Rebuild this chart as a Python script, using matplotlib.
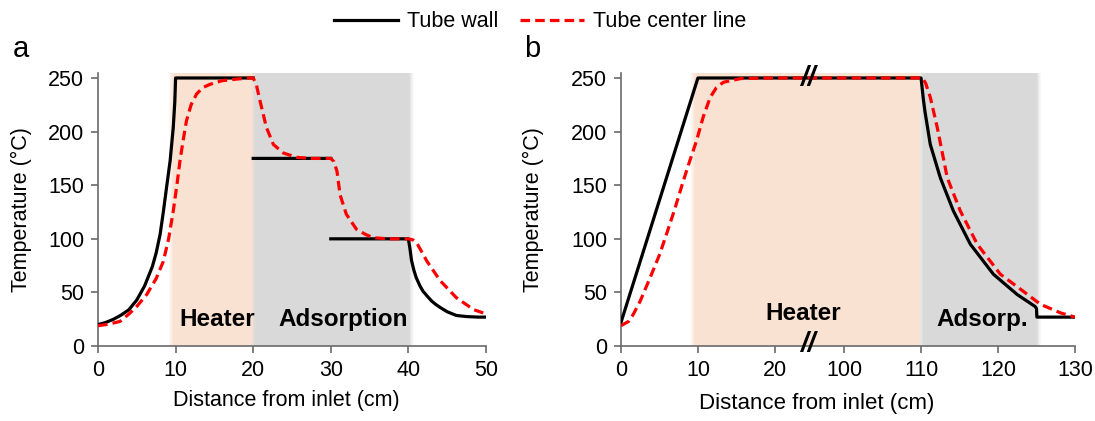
import numpy as np
import matplotlib
matplotlib.use("Agg")
import matplotlib.pyplot as plt

plt.rcParams['font.family'] = ['Liberation Sans', 'DejaVu Sans']

# ---- data ----
# panel a (nan = gap between wall segments)
wall_a_x = [0, 1, 2, 3, 4, 4.55, 5, 6, 7, 7.5, 8, 8.4, 8.8, 9.3, 9.7, 9.9, 10, 20, np.nan,
            20, 30, np.nan,
            30, 40, 40.2, 40.4, 40.7, 41, 41.5, 41.9, 42.5, 43, 43.5, 44.1, 45, 46.2, 47.5, 49, 50]
wall_a_y = [20, 22, 25, 29, 34, 39, 43, 56, 74, 87, 104, 124, 146, 173, 204, 228, 250, 250, np.nan,
            175, 175, np.nan,
            100, 100, 91, 80, 71, 64, 56, 51, 46, 42, 39, 36, 32, 28.5, 27.5, 27, 27]

center_a_x = [0, 1, 2, 2.84, 4, 5, 6.27, 7.5, 8.42, 9.1, 9.7, 10.2, 10.57, 11, 11.4, 12,
              12.7, 13.5, 14.4, 16, 17.9, 19.5, 20, 20.4, 20.9, 21.7, 22.6, 23.9, 25.6,
              27.5, 29.5, 30, 30.4, 30.8, 31.2, 32, 33.3, 34.5, 35.5, 37.5, 40, 40.6,
              41.1, 42.4, 44.1, 46.2, 48.4, 50]
center_a_y = [19, 20, 21.5, 23, 30, 37, 48, 63, 79, 100, 126, 152, 173, 193, 210, 225,
              235, 241, 244, 247.5, 249, 250, 250, 244, 228, 204, 188, 180, 176,
              175, 175, 175, 172, 163, 141, 123, 109, 104, 101, 100, 100, 99,
              96, 79, 61, 45, 34, 30]

# panel b (real distances, axis broken between 20 and 100)
wall_b_x = [0, 10, 110, 110.3, 110.5, 111.2, 112.5, 114.2, 116.4, 119.4, 122.5, 124.8,
            125, 125.05, 130]
wall_b_y = [22, 250, 250, 230, 219, 188, 157, 126, 95, 67, 48, 37, 35, 27, 27]

center_b_x = [0, 1, 1.6, 2.5, 3.8, 5, 5.9, 7, 8.1, 9, 9.8, 10.7, 11.6, 12.4, 13.3, 15.6,
              20, 110.2, 110.6, 111.2, 112.1, 113.4, 115.1, 117.3, 120.3, 123.3, 125.5,
              128.1, 130]
center_b_y = [19, 23, 29.6, 42, 64, 85, 104, 128, 154, 174, 191, 214, 232, 241, 246, 249.5,
              250, 250, 245, 232, 204, 157, 126, 95, 67, 51, 39, 31, 27]

y_ticks = [0, 50, 100, 150, 200, 250]
a_ticks = [0, 10, 20, 30, 40, 50]
b_ticks = [0, 10, 20, 100, 110, 120, 130]

# shaded zones: (start, end, colour)
heater_color = '#FAE2D3'
adsorb_color = '#D9D9D9'
zones_a = [(9.4, 20.4, heater_color), (20.0, 40.4, adsorb_color)]
zones_b = [(9.3, 110.0, heater_color), (110.0, 125.3, adsorb_color)]

wall_color = 'black'
center_color = '#FF0000'
spine_color = '#6a6a6a'
fs = 15.5


def soft_span(ax, x0, x1, color, fade=0.5, n=8):
    # core + faded edges
    ax.axvspan(x0 + fade / 2, x1 - fade / 2, color=color, lw=0, zorder=0)
    step = fade / n
    for i in range(n):
        a = (i + 0.5) / n
        ax.axvspan(x0 - fade / 2 + i * step, x0 - fade / 2 + (i + 1) * step,
                   color=color, alpha=a, lw=0, zorder=0)
        ax.axvspan(x1 + fade / 2 - (i + 1) * step, x1 + fade / 2 - i * step,
                   color=color, alpha=a, lw=0, zorder=0)


def style_axes(ax):
    for s in ['top', 'right']:
        ax.spines[s].set_visible(False)
    for s in ['left', 'bottom']:
        ax.spines[s].set_color(spine_color)
        ax.spines[s].set_linewidth(1.2)
    ax.tick_params(direction='out', length=5, width=1.2, color=spine_color,
                   labelsize=fs, pad=5)
    ax.set_ylim(0, 255)
    ax.set_yticks(y_ticks)


fig = plt.figure(figsize=(10.95, 4.21), dpi=100)

# ---- panel a ----
ax1 = fig.add_axes([0.0895, 0.178, 0.3543, 0.6495])
for x0, x1, c in zones_a:
    soft_span(ax1, x0, x1, c, fade=0.6)
l1, = ax1.plot(wall_a_x, wall_a_y, color=wall_color, lw=2.3, label='Tube wall', zorder=3)
l2, = ax1.plot(center_a_x, center_a_y, color=center_color, lw=2.3, dashes=(3, 1.6),
               label='Tube center line', zorder=4)
ax1.set_xlim(0, 50)
ax1.set_xticks(a_ticks)
style_axes(ax1)
ax1.set_ylabel('Temperature (°C)', fontsize=fs)
ax1.yaxis.set_label_coords(-0.17, 0.5)
ax1.set_xlabel('Distance from inlet (cm)', fontsize=fs)
ax1.xaxis.set_label_coords(0.485, -0.16)
ax1.text(15.4, 25, 'Heater', fontsize=17.5, fontweight='bold', ha='center', va='center', zorder=5)
ax1.text(31.6, 25, 'Adsorption', fontsize=17.5, fontweight='bold', ha='center', va='center', zorder=5)

# ---- panel b (broken x axis via function scale) ----
def fwd(x):
    x = np.asarray(x, dtype=float)
    return np.where(x < 60, x, x - 71)


def inv(u):
    u = np.asarray(u, dtype=float)
    return np.where(u < 24.5, u, u + 71)


ax2 = fig.add_axes([0.5671, 0.178, 0.4146, 0.6495])
ax2.set_xscale('function', functions=(fwd, inv))
for x0, x1, c in zones_b:
    soft_span(ax2, x0, x1, c, fade=0.6)
ax2.plot(wall_b_x, wall_b_y, color=wall_color, lw=2.3, zorder=3)
ax2.plot(center_b_x, center_b_y, color=center_color, lw=2.3, dashes=(3, 1.6), zorder=4)
ax2.set_xlim(0, 130)
ax2.set_xticks(b_ticks)
ax2.set_xticklabels([str(t) for t in b_ticks])
ax2.minorticks_off()
style_axes(ax2)
ax2.set_ylabel('Temperature (°C)', fontsize=fs)
ax2.yaxis.set_label_coords(-0.17, 0.5)
ax2.set_xlabel('Distance from inlet (cm)', fontsize=16)
ax2.xaxis.set_label_coords(0.43, -0.17)
ax2.text(23.7, 30, 'Heater', fontsize=17.5, fontweight='bold', ha='center', va='center', zorder=5)
ax2.text(118, 25, 'Adsorp.', fontsize=17.5, fontweight='bold', ha='center', va='center', zorder=5)
# break marks
ax2.text(24.3, 250, '//', fontsize=20, fontweight='bold', fontstyle='italic',
         ha='center', va='center', zorder=6)
ax2.text(24.3, 2, '//', fontsize=20, fontweight='bold', fontstyle='italic',
         ha='center', va='center', zorder=6, clip_on=False)

# panel letters
fig.text(0.019, 0.884, 'a', fontsize=21, ha='center', va='center')
fig.text(0.486, 0.884, 'b', fontsize=21, ha='center', va='center')

fig.legend(handles=[l1, l2], loc='center', bbox_to_anchor=(0.493, 0.948), ncol=2,
           frameon=False, fontsize=fs, handlelength=3.0, columnspacing=1.0,
           handletextpad=0.4)

fig.savefig('out.png', dpi=100)
